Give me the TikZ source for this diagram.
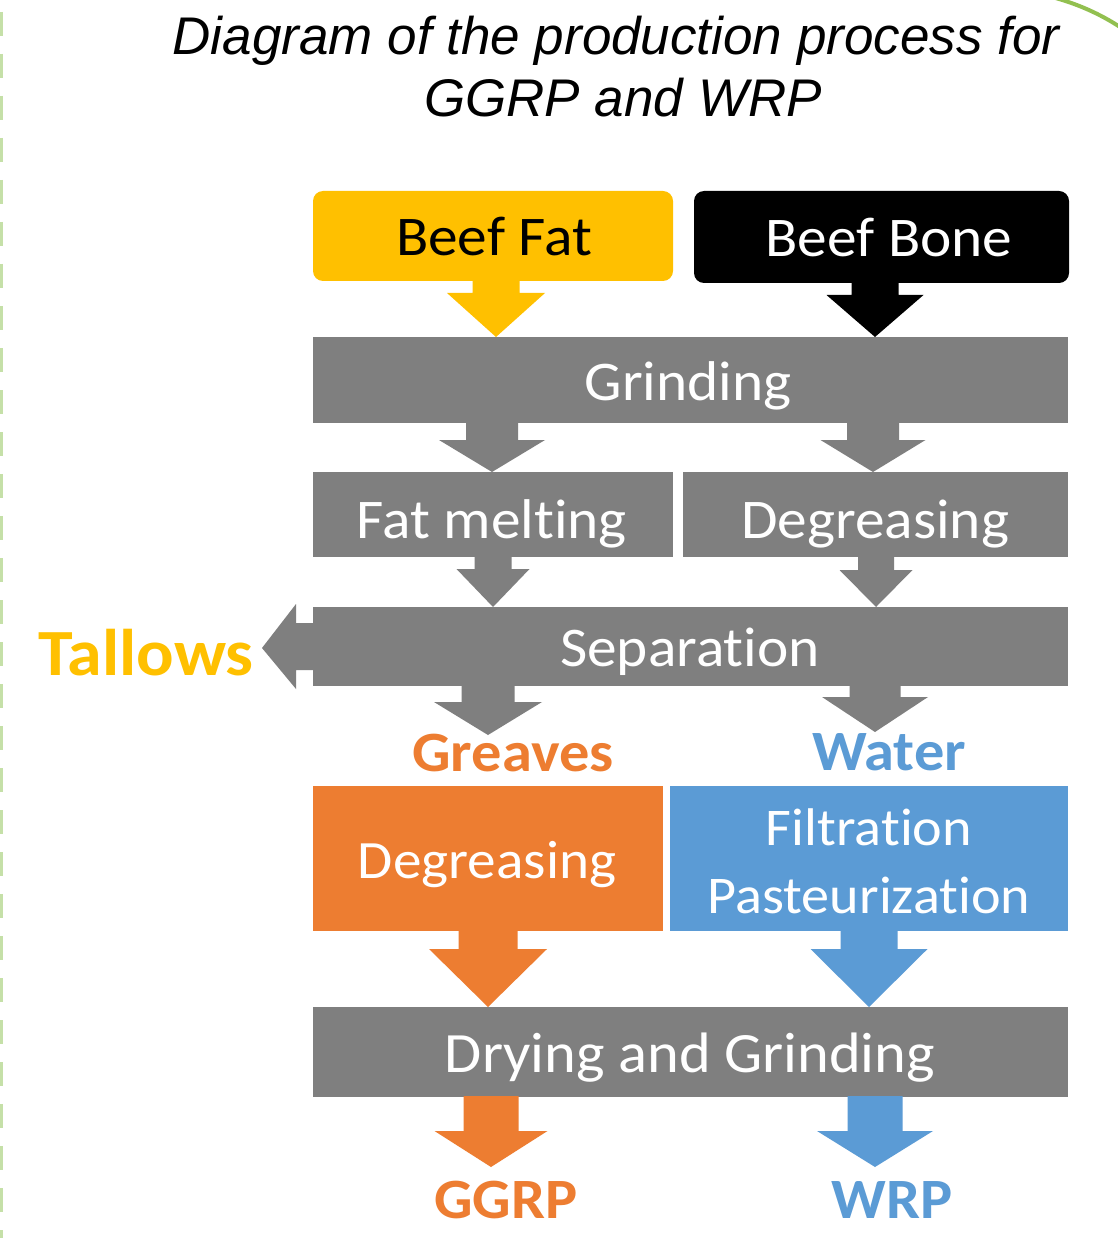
\documentclass[tikz,border=0pt]{standalone}
\usepackage{fontspec}
\setmainfont{Carlito}
\newfontfamily\boxfont{Carlito}[FakeStretch=1.06, Ligatures=NoCommon]
\newfontfamily\titlefont{Liberation Sans}
\usetikzlibrary{calc}
\definecolor{procgray}{HTML}{7F7F7F}
\definecolor{fatyellow}{HTML}{FFC000}
\definecolor{orng}{HTML}{ED7D31}
\definecolor{blu}{HTML}{5B9BD5}
\definecolor{dashgreen}{HTML}{C5E0A8}
\definecolor{arcgreen}{HTML}{92C050}
\tikzset{
  box/.style={draw=none, inner sep=0pt, outer sep=0pt, anchor=north west},
  gbox/.style={box, fill=procgray},
  rbox/.style={box, rounded corners=10pt},
  lbl/.style={anchor=base, inner sep=0pt, text=white, font=\boxfont\fontsize{56}{60}\selectfont},
  blbl/.style={anchor=base, inner sep=0pt, font=\boxfont\bfseries\fontsize{57}{60}\selectfont},
  ttl/.style={anchor=base, inner sep=0pt, font=\titlefont\itshape\fontsize{53}{60}\selectfont},
}
% #1 colour, #2 x of tip, #3 source, #4 target, #5 shaft half width, #6 head half width, #7 head length
\newcommand\blockdown[7]{%
  \fill[#1] let \p1=(#3), \p2=(#4) in
    (#2pt-#5pt,\y1+1pt) -- (#2pt+#5pt,\y1+1pt) -- (#2pt+#5pt,\y2+#7pt) -- (#2pt+#6pt,\y2+#7pt)
    -- (#2pt,\y2) -- (#2pt-#6pt,\y2+#7pt) -- (#2pt-#5pt,\y2+#7pt) -- cycle;}
\begin{document}
\begin{tikzpicture}[x=1pt,y=-1pt]
\useasboundingbox (0,0) rectangle (1117,1238);
\fill[white] (0,0) rectangle (1117,1238);
% decorations
\draw[dashgreen, line width=2.5pt, dash pattern=on 24pt off 18pt, dash phase=30pt] (1.25,0) -- (1.25,1238);
\draw[arcgreen, line width=4pt] (1052,-3) .. controls (1078,4) and (1100,14) .. (1120,27);
% title
\node[ttl] (title1) at (616,55) {Diagram of the production process for};
\node[ttl] (title2) at (623,117) {GGRP and WRP};
% boxes
\node[rbox, fill=fatyellow, minimum width=360pt, minimum height=90pt] (fat) at (313,191) {};
\node[rbox, fill=black, minimum width=375pt, minimum height=92pt] (bone) at (694,191) {};
\node[gbox, minimum width=755pt, minimum height=86pt] (grind) at (313,337) {};
\node[gbox, minimum width=360pt, minimum height=85pt] (melt) at (313,472) {};
\node[gbox, minimum width=385pt, minimum height=85pt] (degr) at (683,472) {};
\node[gbox, minimum width=755pt, minimum height=79pt] (sep) at (313,607) {};
\node[box, fill=orng, minimum width=350pt, minimum height=145pt] (odeg) at (313,786) {};
\node[box, fill=blu, minimum width=398pt, minimum height=145pt] (filt) at (670,786) {};
\node[gbox, minimum width=755pt, minimum height=90pt] (dry) at (313,1007) {};
% free ends of the output arrows
\coordinate (greavestip) at (488,735);
\coordinate (watertip) at (875,732);
\coordinate (ggrptip) at (491,1167);
\coordinate (wrptip) at (875,1167);
\coordinate (tallowtip) at (262,648);
% block arrows
\blockdown{fatyellow}{496}{fat.south}{grind.north}{23.5}{49}{44}
\blockdown{black}{875}{bone.south}{grind.north}{23.5}{48.5}{42}
\blockdown{procgray}{492}{grind.south}{melt.north}{26}{53}{32}
\blockdown{procgray}{873}{grind.south}{degr.north}{26}{52.5}{32}
\blockdown{procgray}{493}{melt.south}{sep.north}{18.5}{36.5}{38}
\blockdown{procgray}{876}{degr.south}{sep.north}{18}{36.5}{37}
\blockdown{procgray}{488}{sep.south}{greavestip}{26.5}{54}{33}
\blockdown{procgray}{875}{sep.south}{watertip}{25.5}{53}{35}
\blockdown{orng}{488}{odeg.south}{dry.north}{29.5}{59}{58}
\blockdown{blu}{869}{filt.south}{dry.north}{28.5}{58.5}{58}
\blockdown{orng}{491}{dry.south}{ggrptip}{27.5}{56.5}{36}
\blockdown{blu}{875}{dry.south}{wrptip}{27.5}{58}{36}
\fill[procgray] let \p1=(sep.west), \p2=(tallowtip) in
  (\x1+1pt,\y1-23.5pt) -- (\x2+34pt,\y1-23.5pt) -- (\x2+34pt,\y1-42.5pt) -- (\x2,\y2)
  -- (\x2+34pt,\y1+42.5pt) -- (\x2+34pt,\y1+23.5pt) -- (\x1+1pt,\y1+23.5pt) -- cycle;
% texts
\node[lbl, text=black] (tfat) at (494,256) {Beef Fat};
\node[lbl] (tbone) at (889,257) {Beef Bone};
\node[lbl] (tgrind) at (688,400) {Grinding};
\node[lbl] (tmelt) at (492,538) {Fat melting};
\node[lbl] (tdegr) at (875,538) {Degreasing};
\node[lbl] (tsep) at (690,666) {Separation};
\node[lbl, font=\boxfont\fontsize{54}{60}\selectfont] (todeg) at (487,878) {Degreasing};
\node[lbl, font=\boxfont\fontsize{53}{60}\selectfont] (tfilt1) at (869,845) {Filtration};
\node[lbl, font=\boxfont\fontsize{53}{60}\selectfont] (tfilt2) at (869,913) {Pasteurization};
\node[lbl, font=\boxfont\fontsize{57}{60}\selectfont] (tdry) at (690,1072) {Drying and Grinding};
\node[blbl, text=orng] (greaves) at (513,771) {Greaves};
\node[blbl, text=blu] (water) at (889,770) {Water};
\node[blbl, text=orng] (ggrp) at (506,1218) {GGRP};
\node[blbl, text=blu] (wrp) at (892,1218) {WRP};
\node[blbl, text=fatyellow, font=\boxfont\bfseries\fontsize{66}{70}\selectfont] (tallows) at (146,675) {Tallows};
\end{tikzpicture}
\end{document}
